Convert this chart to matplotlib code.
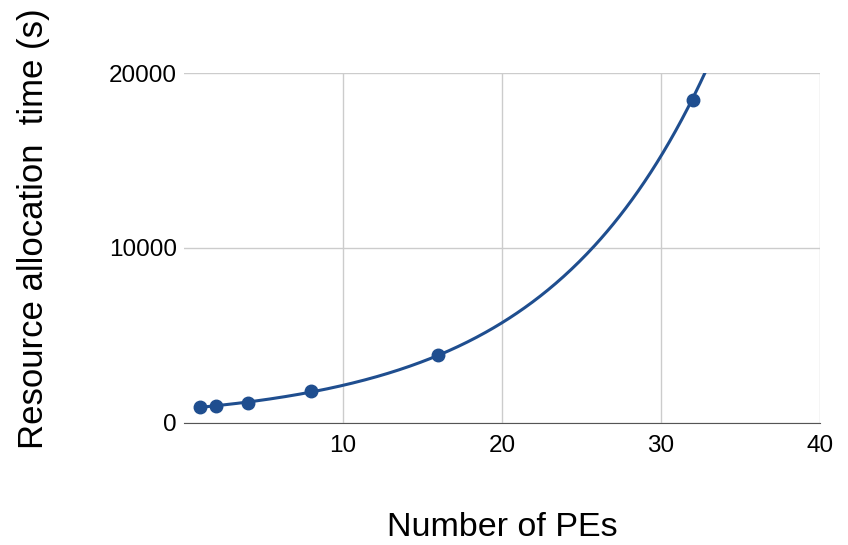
import numpy as np
import matplotlib
matplotlib.use("Agg")
from matplotlib import pyplot as plt

plt.rcParams['font.family'] = ['Liberation Sans', 'DejaVu Sans']

pes = [1, 2, 4, 8, 16, 32]
alloc_time = [910, 970, 1140, 1830, 3890, 18460]
x_ticks = [10, 20, 30, 40]
y_ticks = [0, 10000, 20000]

blue = '#1f4e8f'

fig = plt.figure(figsize=(8.48, 5.45), dpi=100)
ax = fig.add_axes([0.217, 0.224, 0.75, 0.642])

# exponential trendline through the measurements
b, ln_a = np.polyfit(pes, np.log(alloc_time), 1)
xs = np.linspace(1, 40, 400)
ax.plot(xs, np.exp(ln_a) * np.exp(b * xs), color=blue, lw=2.2, zorder=3)
ax.plot(pes, alloc_time, 'o', color=blue, ms=9, zorder=4)

ax.set_xlim(0, 40)
ax.set_ylim(0, 20000)
ax.set_xticks(x_ticks)
ax.set_yticks(y_ticks)
ax.grid(True, color='#cccccc', lw=1)
ax.set_axisbelow(True)
for s in ['top', 'right', 'left']:
    ax.spines[s].set_visible(False)
ax.spines['bottom'].set_color('#555555')
ax.tick_params(length=0, labelsize=17.5)
ax.tick_params(axis='y', pad=5)
ax.tick_params(axis='x', pad=9)

ax.set_xlabel('Number of PEs', fontsize=24.5)
ax.xaxis.set_label_coords(0.5, -0.254)
ax.set_ylabel('Resource allocation  time (s)', fontsize=25)
ax.yaxis.set_label_coords(-0.21, 0.554)

plt.savefig('out.png', dpi=100)
